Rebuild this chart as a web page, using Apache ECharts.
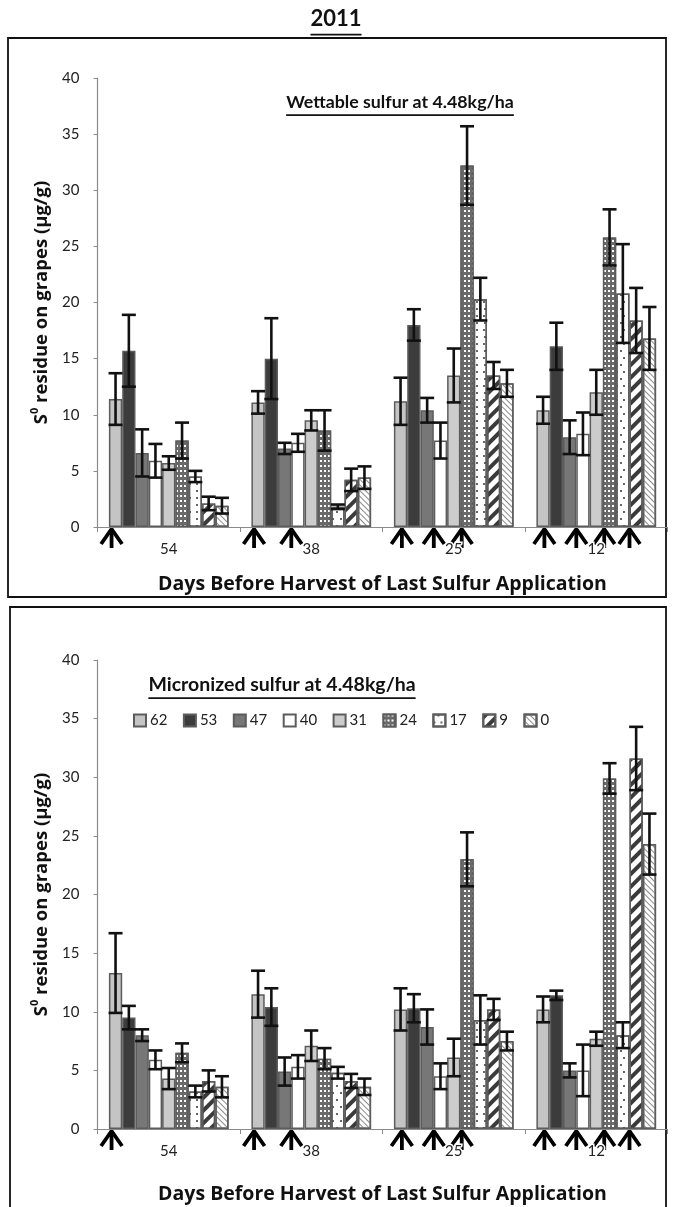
<!DOCTYPE html>
<html><head><meta charset="utf-8">
<script src="https://cdn.jsdelivr.net/npm/echarts@6/dist/echarts.min.js"></script>
<style>html,body{margin:0;padding:0;background:#fff}#c{width:673px;height:1207px}</style>
</head><body><div id="c"></div>
<script>
// ---------- DATA ----------
const categories = ['54', '38', '25', '12'];
const seriesNames = ['62', '53', '47', '40', '31', '24', '17', '9', '0'];
const yTickMin = 0, yTickMax = 40, yTickStep = 5;

// Wettable sulfur (top panel): rows = series 62..0, columns = categories 54,38,25,12
const wettableMeans = [
  [11.4, 11.1, 11.2, 10.4],
  [15.7, 15.0, 18.0, 16.1],
  [6.6, 7.0, 10.4, 8.0],
  [5.9, 7.5, 7.7, 8.3],
  [5.7, 9.5, 13.5, 12.0],
  [7.7, 8.6, 32.2, 25.8],
  [4.5, 1.8, 20.3, 20.8],
  [2.1, 4.2, 13.5, 18.4],
  [1.9, 4.4, 12.8, 16.8]
];
const wettableErrors = [
  [2.3, 1.0, 2.1, 1.2],
  [3.2, 3.6, 1.4, 2.1],
  [2.1, 0.5, 1.1, 1.5],
  [1.5, 0.8, 1.6, 1.9],
  [0.6, 0.9, 2.4, 2.0],
  [1.6, 1.8, 3.5, 2.5],
  [0.5, 0.2, 1.9, 4.4],
  [0.6, 1.0, 1.2, 2.9],
  [0.7, 1.0, 1.2, 2.8]
];
// Micronized sulfur (bottom panel)
const micronizedMeans = [
  [13.3, 11.5, 10.2, 10.2],
  [9.5, 10.4, 10.3, 11.4],
  [8.0, 4.9, 8.7, 5.0],
  [5.9, 5.3, 4.5, 5.0],
  [4.3, 7.1, 6.1, 7.7],
  [6.5, 6.0, 23.0, 29.9],
  [3.2, 4.8, 9.3, 8.0],
  [4.1, 4.1, 10.2, 31.6],
  [3.6, 3.6, 7.5, 24.3]
];
const micronizedErrors = [
  [3.4, 2.0, 1.8, 1.1],
  [1.0, 1.6, 1.2, 0.4],
  [0.5, 1.2, 1.5, 0.6],
  [0.8, 1.0, 1.1, 2.2],
  [0.9, 1.3, 1.6, 0.6],
  [0.8, 0.9, 2.3, 1.3],
  [0.5, 0.5, 2.1, 1.1],
  [0.9, 0.6, 0.9, 2.7],
  [0.9, 0.7, 0.8, 2.6]
];
// application arrows: per category, positions in bar-widths from group start
const arrowSlots = [
  [0.2],
  [0.2, 3],
  [0.6, 3, 5.1],
  [0.6, 3, 5.1, 7]
];

// ---------- STYLE ----------
const FONT = 'Lato';
const BOLD = 'Open Sans';
const GROUP = 0.84;
const fills = ['#c4c4c4', '#3c3c3c', '#777777', '#ffffff', '#cccccc', '#6a6a6a', '#ffffff', '#ffffff', '#ffffff'];
const decals = [
  null, null, null, null, null,
  {symbol: 'rect', color: '#ffffff', dashArrayX: [2, 2], dashArrayY: [2, 2.5], symbolSize: 1},
  {symbol: 'circle', color: '#333333', dashArrayX: [[2, 5], [0, 3.5, 2, 1.5]], dashArrayY: [2, 5], symbolSize: 1},
  {symbol: 'rect', color: '#3a3a3a', dashArrayX: [1, 0], dashArrayY: [4, 5], rotation: -Math.PI / 4},
  {symbol: 'rect', color: '#8a8a8a', dashArrayX: [1, 0], dashArrayY: [1, 2.6], rotation: Math.PI / 4}
];

function barSeries(means, axisIdx) {
  return seriesNames.map((name, s) => {
    const st = {color: fills[s], borderColor: '#5c5c5c', borderWidth: 1.5};
    if (decals[s]) st.decal = decals[s];
    return {
      type: 'bar', name, xAxisIndex: axisIdx, yAxisIndex: axisIdx,
      data: means[s], itemStyle: st, barGap: '0%', barCategoryGap: '16%',
      emphasis: {disabled: true}, animation: false
    };
  });
}
function errData(means, errs) {
  const out = [];
  means.forEach((row, s) => row.forEach((m, c) => out.push([c, s, m, errs[s][c]])));
  return out;
}
function errSeries(means, errs, axisIdx) {
  return {
    type: 'custom', name: 'err' + axisIdx, xAxisIndex: axisIdx, yAxisIndex: axisIdx, z: 5,
    data: errData(means, errs), encode: {x: 0, y: 2}, animation: false, silent: true,
    renderItem(params, api) {
      const c = api.value(0), s = api.value(1), m = api.value(2), e = api.value(3);
      const center = api.coord([c, m]);
      const band = api.size([1, 0])[0];
      const bw = band * GROUP / 9;
      const x = center[0] - band * GROUP / 2 + (s + 0.5) * bw;
      const yT = api.coord([c, m + e])[1], yB = api.coord([c, m - e])[1];
      const hw = 7, st = {stroke: '#111', lineWidth: 2.6};
      return {type: 'group', children: [
        {type: 'line', shape: {x1: x, y1: yT, x2: x, y2: yB}, style: st},
        {type: 'line', shape: {x1: x - hw, y1: yT, x2: x + hw, y2: yT}, style: st},
        {type: 'line', shape: {x1: x - hw, y1: yB, x2: x + hw, y2: yB}, style: st}
      ]};
    }
  };
}
function arrowSeries(axisIdx) {
  const data = [];
  arrowSlots.forEach((arr, c) => arr.forEach(p => data.push([c, 0, p])));
  return {
    type: 'custom', name: 'arrows' + axisIdx, xAxisIndex: axisIdx, yAxisIndex: axisIdx, z: 1,
    data, encode: {x: 0, y: 1}, animation: false, silent: true, clip: false,
    renderItem(params, api) {
      const c = api.value(0), p = api.value(2);
      const base = api.coord([c, 0]);
      const band = api.size([1, 0])[0];
      const bw = band * GROUP / 9;
      const x = base[0] - band * GROUP / 2 + p * bw;
      const y = base[1] + 2;
      const st = {stroke: '#000', lineWidth: 3.8, fill: null, lineJoin: 'miter'};
      return {type: 'group', children: [
        {type: 'polyline', shape: {points: [[x - 10.5, y + 15], [x, y], [x + 10.5, y + 15]]}, style: st},
        {type: 'line', shape: {x1: x, y1: y, x2: x, y2: y + 19}, style: st}
      ]};
    }
  };
}

const yName = '{a|S}{s|0}{a| residue on grapes (µg/g)}';
const yNameStyle = {rich: {
  a: {fontSize: 18.5, fontWeight: 'bold', fontFamily: BOLD, color: '#111', lineHeight: 24},
  s: {fontSize: 11, fontWeight: 'bold', fontFamily: BOLD, color: '#111', verticalAlign: 'top', lineHeight: 24}
}};
function yAxis(gi) {
  return {
    type: 'value', gridIndex: gi, min: yTickMin, max: yTickMax, interval: yTickStep,
    splitLine: {show: false},
    axisLine: {show: true, lineStyle: {color: '#8a8a8a', width: 1.2}},
    axisTick: {show: true, length: 4, lineStyle: {color: '#8a8a8a'}},
    axisLabel: {fontSize: 15, color: '#222', fontFamily: FONT, margin: 18},
    name: yName, nameLocation: 'middle', nameGap: 37, nameRotate: 90, nameTextStyle: yNameStyle
  };
}
function xAxis(gi, gap) {
  return {
    type: 'category', gridIndex: gi, data: categories, z: 10,
    axisLine: {show: true, lineStyle: {color: '#8a8a8a', width: 1.2}},
    axisTick: {show: true, length: 5, lineStyle: {color: '#8a8a8a'}},
    axisLabel: {fontSize: 15, color: '#222', fontFamily: FONT, margin: 15,
      textBorderColor: '#ffffff', textBorderWidth: 3},
    name: 'Days Before Harvest of Last Sulfur Application', nameLocation: 'middle', nameGap: gap,
    nameTextStyle: {fontSize: 19.5, fontWeight: 'bold', fontFamily: BOLD, color: '#111'}
  };
}

// measure text for underlines
const mctx = document.createElement('canvas').getContext('2d');
function tw(text, font) { mctx.font = font; return mctx.measureText(text).width; }
function underlinedTitle(text, cx, cy, size) {
  const font = 'bold ' + size + 'px ' + FONT;
  const w = tw(text, font);
  return [
    {type: 'text', left: cx - w / 2, top: cy - size * 0.6, style: {text, font, fill: '#111'}},
    {type: 'line', shape: {x1: cx - w / 2, y1: cy + size * 0.62, x2: cx + w / 2, y2: cy + size * 0.62}, style: {stroke: '#111', lineWidth: 1.8}}
  ];
}

const chart = echarts.init(document.getElementById('c'), null, {renderer: 'canvas'});
chart.setOption({
  backgroundColor: '#fff',
  animation: false,
  grid: [
    {left: 97.5, right: 5.5, top: 78, height: 449},
    {left: 97.5, right: 5.5, top: 660, height: 469}
  ],
  xAxis: [xAxis(0, 47), xAxis(1, 55)],
  yAxis: [yAxis(0), yAxis(1)],
  legend: {
    data: seriesNames, left: 128, top: 708, itemWidth: 12, itemHeight: 12, itemGap: 15.5,
    textStyle: {fontSize: 15, color: '#222', fontFamily: FONT, padding: [0, 0, 0, -1]},
    icon: 'rect', selectedMode: false
  },
  series: [
    ...barSeries(wettableMeans, 0),
    ...barSeries(micronizedMeans, 1),
    errSeries(wettableMeans, wettableErrors, 0),
    errSeries(micronizedMeans, micronizedErrors, 1),
    arrowSeries(0),
    arrowSeries(1)
  ],
  graphic: [
    {type: 'rect', shape: {x: 8, y: 38, width: 658, height: 559}, style: {fill: null, stroke: '#111', lineWidth: 1.8}, silent: true},
    {type: 'rect', shape: {x: 10, y: 607, width: 656, height: 620}, style: {fill: null, stroke: '#111', lineWidth: 1.8}, silent: true},
    ...underlinedTitle('2011', 336, 21, 22),
    ...underlinedTitle('Wettable sulfur at 4.48kg/ha', 400, 104, 17.8),
    ...underlinedTitle('Micronized sulfur at 4.48kg/ha', 282, 686, 19.5)
  ]
});
</script>
</body></html>
